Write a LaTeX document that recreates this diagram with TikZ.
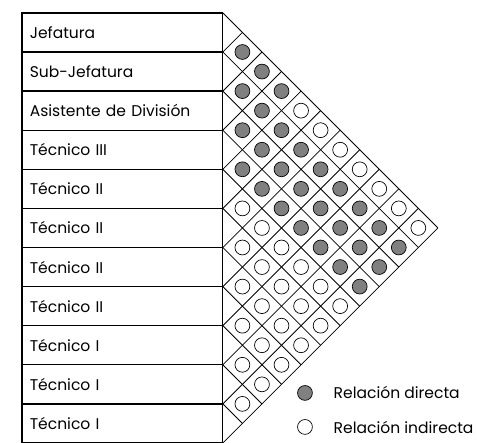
\documentclass[tikz,border=0pt]{standalone}
\usepackage{fontspec}
\setmainfont{Poppins}
\usepackage{xcolor}
\definecolor{relgray}{RGB}{128, 128, 128}
\usepackage{tikz}
\usetikzlibrary{positioning}

\begin{document}
\begin{tikzpicture}[
  rowbox/.style={
    draw, line width=0.9pt,
    minimum width=5.137cm, minimum height=1cm,
    text width=4.737cm, align=left, inner xsep=0.2cm,
    font=\fontsize{11.3}{13}\selectfont
  },
  cell/.style={
    circle, draw, line width=0.5pt,
    minimum size=0.38cm, inner sep=0pt
  },
  grid/.style={line width=0.6pt},
  legtext/.style={inner sep=0pt, font=\fontsize{11.3}{13}\selectfont}
]
\useasboundingbox (0,0) rectangle (12.2,11.33);

% roles
\node[rowbox] (r1)  at (3.1315,10.5) {Jefatura};
\node[rowbox] (r2)  at (3.1315,9.5)  {Sub-Jefatura};
\node[rowbox] (r3)  at (3.1315,8.5)  {Asistente de División};
\node[rowbox] (r4)  at (3.1315,7.5)  {Técnico III};
\node[rowbox] (r5)  at (3.1315,6.5)  {Técnico II};
\node[rowbox] (r6)  at (3.1315,5.5)  {Técnico II};
\node[rowbox] (r7)  at (3.1315,4.5)  {Técnico II};
\node[rowbox] (r8)  at (3.1315,3.5)  {Técnico II};
\node[rowbox] (r9)  at (3.1315,2.5)  {Técnico I};
\node[rowbox] (r10) at (3.1315,1.5)  {Técnico I};
\node[rowbox] (r11) at (3.1315,0.5)  {Técnico I};

% diamond grid
\foreach \n in {0,...,11} {
  \draw[grid] (5.70,11-\n) -- ++({(11-\n)*0.5},{-(11-\n)*0.5});
  \draw[grid] (5.70,11-\n) -- ++({\n*0.5},{\n*0.5});
}

% relations
\foreach \i in {1,...,10} {
  \pgfmathtruncatemacro\jstart{\i+1}
  \foreach \j in {\jstart,...,11} {
    \pgfmathtruncatemacro\direct{((\i>1)*(\i<5)+(\i==1)*(\j<5))>0}
    \def\cellfill{white}
    \ifnum\direct=1 \def\cellfill{relgray}\fi
    \node[cell, fill=\cellfill] (c-\i-\j) at ({5.70+(\j-\i)*0.5},{11.5-(\i+\j)/2}) {};
  }
}

% legend
\node[cell, fill=relgray] (legdir) at (7.80,1.28) {};
\node[cell, fill=white] (legind) at (7.80,0.41) {};
\node[legtext, right=0.53cm of legdir] (legdirtxt) {Relación directa};
\node[legtext, right=0.53cm of legind] (legindtxt) {Relación indirecta};

\end{tikzpicture}
\end{document}
